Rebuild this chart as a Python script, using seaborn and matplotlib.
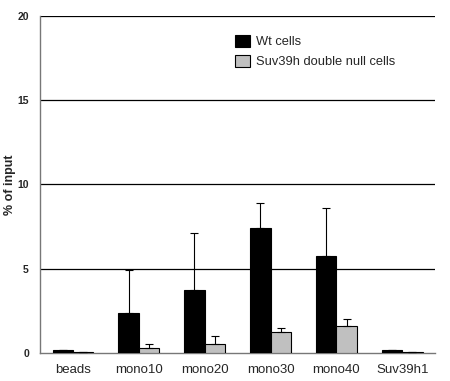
import numpy as np
import pandas as pd
import matplotlib
matplotlib.use("Agg")
import matplotlib.pyplot as plt
import seaborn as sns

# ── Data ───────────────────────────────────────────────────────────────────
categories = ["beads", "mono10", "mono20", "mono30", "mono40", "Suv39h1"]
series = ["Wt cells", "Suv39h double null cells"]
wt_values = [0.15, 2.4, 3.75, 7.4, 5.75, 0.15]
wt_err = [0.0, 2.5, 3.35, 1.5, 2.85, 0.0]
null_values = [0.08, 0.3, 0.55, 1.25, 1.6, 0.08]
null_err = [0.0, 0.25, 0.45, 0.25, 0.4, 0.0]
y_ticks = [0, 5, 10, 15, 20]

df = pd.DataFrame({
    "category": categories * 2,
    "cells": [series[0]] * len(categories) + [series[1]] * len(categories),
    "value": wt_values + null_values,
    "err": wt_err + null_err,
})

sns.set_theme(style="white")
plt.rcParams["font.family"] = ["Liberation Sans", "DejaVu Sans"]

fig = plt.figure(figsize=(4.5, 3.81), dpi=100)
ax = fig.add_axes([0.089, 0.0735, 0.878, 0.8845])

palette = {series[0]: "#000000", series[1]: "#c0c0c0"}
sns.barplot(data=df, x="category", y="value", hue="cells", order=categories,
            hue_order=series, palette=palette, errorbar=None, width=0.62,
            edgecolor="#000000", linewidth=0.8, saturation=1, ax=ax, zorder=3)

# one-sided error bars from the drawn bar positions
for container, s in zip(ax.containers, series):
    sub = df[df["cells"] == s].set_index("category").loc[categories]
    xs = [p.get_x() + p.get_width() / 2 for p in container.patches]
    ax.errorbar(xs, sub["value"], yerr=[np.zeros(len(xs)), sub["err"]],
                fmt="none", ecolor="#000000", elinewidth=0.8, capsize=3,
                capthick=0.8, zorder=4)

ax.set_ylim(0, 20)
ax.set_xlim(-0.5, len(categories) - 0.5)
ax.set_yticks(y_ticks)
ax.set_yticklabels([str(t) for t in y_ticks], fontsize=7.5, fontweight="bold")
for t in y_ticks[1:]:
    ax.axhline(t, color="#000000", lw=0.9, zorder=1)

ax.set_xticks(range(len(categories)))
ax.set_xticklabels(categories, fontsize=9.5)
ax.set_xticks(np.arange(-0.5, len(categories)), minor=True)
ax.tick_params(axis="x", which="major", length=0, pad=8)
ax.tick_params(axis="x", which="minor", length=4, width=0.8, color="#555555", direction="out")
ax.tick_params(axis="y", length=5, width=0.8, color="#555555", direction="out", pad=3)
ax.set_xlabel("")
ax.set_ylabel("% of input", fontsize=9, fontweight="bold", labelpad=1)

for side in ["top", "right"]:
    ax.spines[side].set_visible(False)
for side in ["left", "bottom"]:
    ax.spines[side].set_color("#777777")
    ax.spines[side].set_linewidth(1.0)

ax.legend(loc="upper left", bbox_to_anchor=(0.48, 0.96), frameon=False,
          fontsize=9.3, handlelength=1.2, handleheight=1.1, handletextpad=0.4,
          labelspacing=0.5, borderaxespad=0)

fig.savefig("out.png", dpi=100)
